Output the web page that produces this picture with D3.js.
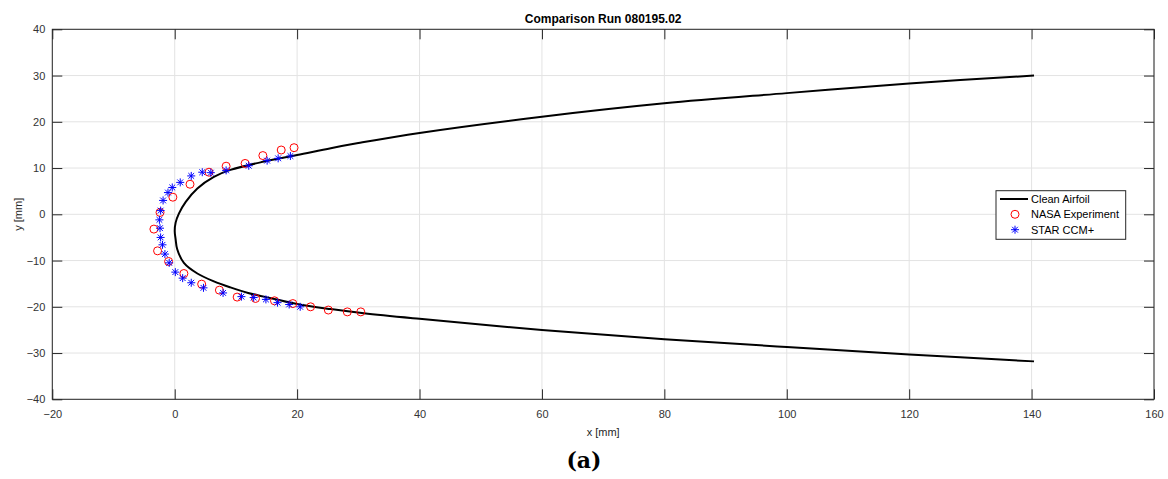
<!DOCTYPE html>
<html>
<head>
<meta charset="utf-8">
<script src="https://cdn.jsdelivr.net/npm/d3@7"></script>
<style>
  body { margin: 0; background: #fff; }
  text { font-family: "Liberation Sans", Arial, sans-serif; }
</style>
</head>
<body>
<div id="chart"></div>
<script>
// clean airfoil outline, upper TE -> nose -> lower TE
const airX = [140.4, 120, 100, 80, 60, 40, 30, 25.5, 20, 14.6, 9.1, 6.4, 3.7, 1.8, 0.7, 0.15, 0, 0.15, 0.4, 1.5, 3.7, 6.4, 9.1, 12, 14.6, 20, 25.5, 30.9, 40, 60, 80, 100, 120, 140.4];
const airY = [30.0, 28.3, 26.2, 24.0, 21.1, 17.6, 15.4, 14.3, 12.8, 11.4, 9.6, 8.1, 5.6, 2.7, 0.2, -1.8, -3.6, -5.4, -7.5, -10.5, -12.8, -14.5, -15.8, -17.0, -17.8, -19.4, -20.5, -21.4, -22.6, -25.0, -27.0, -28.7, -30.3, -31.8];

// NASA experiment ice shape
const nasaX = [19.5, 17.4, 14.4, 11.5, 8.4, 5.6, 2.5, -0.3, -2.4, -3.4, -2.8, -1.0, 1.5, 4.4, 7.3, 10.2, 13.2, 16.3, 19.3, 22.2, 25.1, 28.2, 30.4];
const nasaY = [14.4, 13.9, 12.7, 11.0, 10.4, 9.1, 6.5, 3.7, 0.4, -3.2, -7.9, -10.2, -12.8, -15.1, -16.4, -17.9, -18.2, -18.7, -19.3, -20.0, -20.7, -21.1, -21.1];

// STAR CCM+ ice shape
const starX = [18.9, 16.9, 15.1, 12.1, 8.4, 5.9, 4.5, 2.7, 0.9, -0.4, -1.1, -1.9, -2.3, -2.5, -2.4, -2.3, -2.0, -1.6, -0.9, 0.1, 1.3, 2.7, 4.7, 7.9, 10.9, 12.9, 14.9, 16.8, 18.7, 20.5];
const starY = [12.6, 12.1, 11.6, 10.5, 9.5, 9.0, 9.1, 8.3, 6.9, 5.8, 4.7, 3.0, 0.8, -1.2, -3.0, -5.0, -6.6, -8.6, -10.5, -12.5, -13.8, -14.8, -15.9, -17.0, -17.8, -18.0, -18.4, -19.1, -19.5, -20.0];

const xTicks = [-20, 0, 20, 40, 60, 80, 100, 120, 140, 160];
const yTicks = [-40, -30, -20, -10, 0, 10, 20, 30, 40];
const legendLabels = ["Clean Airfoil", "NASA Experiment", "STAR CCM+"];

const width = 1168, height = 479;
const plotLeft = 52.3, plotRight = 1154, plotTop = 29.3, plotBottom = 399.3;
const axisColor = "#262626";
const gridColor = "#e3e3e3";
const tickLen = 10;

const svg = d3.select('#chart').append('svg')
  .attr('width', width)
  .attr('height', height);

const x = d3.scaleLinear().domain([-20, 160]).range([plotLeft, plotRight]);
const y = d3.scaleLinear().domain([-40, 40]).range([plotBottom, plotTop]);

// grid
svg.append('g').selectAll('line').data(xTicks).join('line')
  .attr('x1', d => x(d)).attr('x2', d => x(d))
  .attr('y1', plotTop).attr('y2', plotBottom)
  .attr('stroke', gridColor).attr('stroke-width', 1);
svg.append('g').selectAll('line').data(yTicks).join('line')
  .attr('x1', plotLeft).attr('x2', plotRight)
  .attr('y1', d => y(d)).attr('y2', d => y(d))
  .attr('stroke', gridColor).attr('stroke-width', 1);

// axes (ticks pointing inward, labels outside)
function styleAxis(g) {
  g.select('.domain').remove();
  g.selectAll('.tick line').attr('stroke', axisColor);
  g.selectAll('.tick text')
    .attr('fill', '#333')
    .style('font-size', '11px');
}

svg.append('g')
  .attr('transform', `translate(0,${plotBottom})`)
  .call(d3.axisBottom(x).tickValues(xTicks).tickSizeInner(-tickLen).tickSizeOuter(0).tickPadding(11))
  .call(styleAxis);
svg.append('g')
  .attr('transform', `translate(0,${plotTop})`)
  .call(d3.axisTop(x).tickValues(xTicks).tickSizeInner(-tickLen).tickSizeOuter(0).tickFormat(''))
  .call(styleAxis);
svg.append('g')
  .attr('transform', `translate(${plotLeft},0)`)
  .call(d3.axisLeft(y).tickValues(yTicks).tickSizeInner(-tickLen).tickSizeOuter(0).tickPadding(7))
  .call(styleAxis);
svg.append('g')
  .attr('transform', `translate(${plotRight},0)`)
  .call(d3.axisRight(y).tickValues(yTicks).tickSizeInner(-tickLen).tickSizeOuter(0).tickFormat(''))
  .call(styleAxis);

svg.append('rect')
  .attr('x', plotLeft).attr('y', plotTop)
  .attr('width', plotRight - plotLeft).attr('height', plotBottom - plotTop)
  .attr('fill', 'none')
  .attr('stroke', axisColor)
  .attr('stroke-width', 1);

// airfoil
const airfoil = airX.map((v, i) => [v, airY[i]]);
const line = d3.line()
  .x(d => x(d[0]))
  .y(d => y(d[1]))
  .curve(d3.curveCatmullRom.alpha(0.5));

svg.append('path')
  .datum(airfoil)
  .attr('d', line)
  .attr('fill', 'none')
  .attr('stroke', '#000')
  .attr('stroke-width', 2);

// asterisk marker path
function asterisk(cx, cy, r) {
  const d = r * 0.72;
  return `M${cx - r},${cy}L${cx + r},${cy}M${cx},${cy - r}L${cx},${cy + r}` +
    `M${cx - d},${cy - d}L${cx + d},${cy + d}M${cx - d},${cy + d}L${cx + d},${cy - d}`;
}

const nasa = nasaX.map((v, i) => [v, nasaY[i]]);
svg.append('g').selectAll('circle').data(nasa).join('circle')
  .attr('cx', d => x(d[0]))
  .attr('cy', d => y(d[1]))
  .attr('r', 4)
  .attr('fill', 'none')
  .attr('stroke', '#ff0000')
  .attr('stroke-width', 1);

const star = starX.map((v, i) => [v, starY[i]]);
svg.append('g').selectAll('path').data(star).join('path')
  .attr('d', d => asterisk(x(d[0]), y(d[1]), 4))
  .attr('fill', 'none')
  .attr('stroke', '#0000ff')
  .attr('stroke-width', 1);

// legend
const lg = svg.append('g').attr('transform', 'translate(996,190.7)');
lg.append('rect')
  .attr('width', 129.7).attr('height', 48.6)
  .attr('fill', '#fff')
  .attr('stroke', axisColor)
  .attr('stroke-width', 1);

const rowY = [8.3, 23.6, 39];
lg.append('line')
  .attr('x1', 4).attr('x2', 32)
  .attr('y1', rowY[0]).attr('y2', rowY[0])
  .attr('stroke', '#000').attr('stroke-width', 2);
lg.append('circle')
  .attr('cx', 19).attr('cy', rowY[1]).attr('r', 4)
  .attr('fill', 'none').attr('stroke', '#ff0000');
lg.append('path')
  .attr('d', asterisk(19, rowY[2], 4))
  .attr('fill', 'none').attr('stroke', '#0000ff');

lg.selectAll('text.lab').data(legendLabels).join('text')
  .attr('class', 'lab')
  .attr('x', 35)
  .attr('y', (d, i) => rowY[i])
  .attr('dy', '0.35em')
  .attr('fill', '#000')
  .style('font-size', '11px')
  .text(d => d);

// titles
svg.append('text')
  .attr('x', (plotLeft + plotRight) / 2)
  .attr('y', 23)
  .attr('text-anchor', 'middle')
  .attr('fill', '#000')
  .style('font-size', '12px')
  .style('font-weight', 'bold')
  .text('Comparison Run 080195.02');

svg.append('text')
  .attr('x', (plotLeft + plotRight) / 2)
  .attr('y', 436)
  .attr('text-anchor', 'middle')
  .attr('fill', '#262626')
  .style('font-size', '11px')
  .text('x [mm]');

svg.append('text')
  .attr('transform', `translate(22,${(plotTop + plotBottom) / 2}) rotate(-90)`)
  .attr('text-anchor', 'middle')
  .attr('fill', '#262626')
  .style('font-size', '11px')
  .text('y [mm]');

svg.append('text')
  .attr('x', 584)
  .attr('y', 468)
  .attr('text-anchor', 'middle')
  .attr('fill', '#000')
  .style('font-family', '"DejaVu Serif", "Liberation Serif", serif')
  .style('font-size', '22px')
  .style('font-weight', 'bold')
  .text('(a)');
</script>
</body>
</html>
